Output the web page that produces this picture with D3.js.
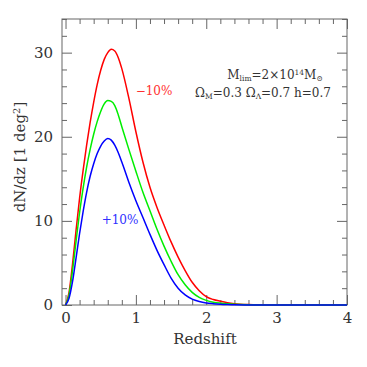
<!DOCTYPE html>
<html>
<head>
<meta charset="utf-8">
<script src="https://cdn.jsdelivr.net/npm/d3@7"></script>
<style>
body { margin: 0; background: #fff; }
svg text { font-family: "DejaVu Serif", "Liberation Serif", serif; fill: #333; }
</style>
</head>
<body>
<svg id="chart"></svg>
<script>
// redshift grid and dN/dz per curve
var zVals = [0, 0.05, 0.1, 0.15, 0.2, 0.25, 0.3, 0.35, 0.4, 0.45, 0.5, 0.55, 0.6, 0.65, 0.7, 0.75, 0.8, 0.9, 1.0, 1.1, 1.2, 1.3, 1.4, 1.5, 1.6, 1.7, 1.8, 1.9, 2.0, 2.1, 2.2, 2.3, 2.4, 2.6, 2.8, 3.0, 3.5, 4.0];
var redVals = [0, 1.5, 4.9, 8.9, 12.7, 16.0, 19.0, 21.7, 24.1, 26.2, 27.9, 29.2, 30.0, 30.4, 30.2, 29.4, 28.1, 24.6, 20.6, 17.0, 14.0, 11.6, 9.5, 7.5, 5.7, 4.1, 2.7, 1.7, 1.0, 0.65, 0.45, 0.28, 0.16, 0.05, 0.015, 0, 0, 0];
var greenVals = [0, 1.2, 4.1, 7.6, 11.0, 13.9, 16.4, 18.5, 20.3, 21.8, 23.0, 23.9, 24.3, 24.2, 23.7, 22.6, 21.2, 18.5, 15.9, 13.4, 11.2, 9.0, 7.0, 5.2, 3.6, 2.4, 1.5, 0.9, 0.55, 0.34, 0.22, 0.14, 0.08, 0.02, 0.005, 0, 0, 0];
var blueVals = [0, 0.8, 2.8, 5.6, 8.5, 11.1, 13.4, 15.3, 16.8, 18.0, 18.9, 19.5, 19.8, 19.6, 19.0, 18.1, 17.0, 14.6, 12.4, 10.4, 8.4, 6.5, 4.8, 3.2, 2.0, 1.2, 0.7, 0.42, 0.25, 0.16, 0.1, 0.06, 0.03, 0.01, 0, 0, 0, 0];
var xTicks = [0, 1, 2, 3, 4];
var yTicks = [0, 10, 20, 30];

var svg = d3.select('#chart')
  .attr('width', 367)
  .attr('height', 367);

// 比例尺
var x = d3.scaleLinear().domain([-0.05, 4]).range([62, 347]);
var y = d3.scaleLinear().domain([0, 34]).range([305, 19]);

var xMinor = d3.range(0, 4.001, 0.2).filter(function(d) { return Math.abs(d - Math.round(d)) > 0.01; });
var yMinor = d3.range(0, 34.001, 2).filter(function(d) { return d % 10 != 0; });

function styleAxis(g) {
  g.select('.domain').remove();
  g.selectAll('line').attr('stroke', '#666').attr('stroke-width', 1);
  g.selectAll('text').style('font-size', '15px').attr('fill', '#333');
}

// bottom
svg.append('g').attr('transform', 'translate(0,305)')
  .call(d3.axisBottom(x).tickValues(xTicks).tickSize(-10).tickPadding(7).tickFormat(d3.format('d')))
  .call(styleAxis);
svg.append('g').attr('transform', 'translate(0,305)')
  .call(d3.axisBottom(x).tickValues(xMinor).tickSize(-5).tickFormat(''))
  .call(styleAxis);
// top
svg.append('g').attr('transform', 'translate(0,19)')
  .call(d3.axisTop(x).tickValues(xTicks).tickSize(-10).tickFormat(''))
  .call(styleAxis);
svg.append('g').attr('transform', 'translate(0,19)')
  .call(d3.axisTop(x).tickValues(xMinor).tickSize(-5).tickFormat(''))
  .call(styleAxis);
// left
svg.append('g').attr('transform', 'translate(62,0)')
  .call(d3.axisLeft(y).tickValues(yTicks).tickSize(-10).tickPadding(9).tickFormat(d3.format('d')))
  .call(styleAxis);
svg.append('g').attr('transform', 'translate(62,0)')
  .call(d3.axisLeft(y).tickValues(yMinor).tickSize(-5).tickFormat(''))
  .call(styleAxis);
// right
svg.append('g').attr('transform', 'translate(347,0)')
  .call(d3.axisRight(y).tickValues(yTicks).tickSize(-10).tickFormat(''))
  .call(styleAxis);
svg.append('g').attr('transform', 'translate(347,0)')
  .call(d3.axisRight(y).tickValues(yMinor).tickSize(-5).tickFormat(''))
  .call(styleAxis);

// frame
svg.append('rect')
  .attr('x', 62).attr('y', 19)
  .attr('width', 285).attr('height', 286)
  .attr('fill', 'none')
  .attr('stroke', '#666')
  .attr('stroke-width', 1);

// curves
var line = d3.line()
  .x(function(d) { return x(d[0]); })
  .y(function(d) { return y(d[1]); })
  .curve(d3.curveMonotoneX);

var series = [
  { vals: redVals, color: '#ff0000' },
  { vals: greenVals, color: '#00ee00' },
  { vals: blueVals, color: '#0000ff' }
];
series.forEach(function(s) {
  svg.append('path')
    .datum(zVals.map(function(z, i) { return [z, s.vals[i]]; }))
    .attr('d', line)
    .attr('fill', 'none')
    .attr('stroke', s.color)
    .attr('stroke-width', 1.5);
});

// labels
svg.append('text')
  .attr('x', 205).attr('y', 344)
  .style('text-anchor', 'middle')
  .style('font-size', '15px')
  .text('Redshift');

var yl = svg.append('text')
  .attr('transform', 'translate(25,157) rotate(-90)')
  .style('text-anchor', 'middle')
  .style('font-size', '15px');
yl.append('tspan').text('dN/dz [1 deg');
yl.append('tspan').attr('dy', -5).style('font-size', '10px').text('2');
yl.append('tspan').attr('dy', 5).text(']');

svg.append('text')
  .attr('x', 154).attr('y', 95)
  .style('text-anchor', 'middle')
  .style('font-size', '12px')
  .style('fill', '#ff3030')
  .text('\u221210%');
svg.append('text')
  .attr('x', 120).attr('y', 224)
  .style('text-anchor', 'middle')
  .style('font-size', '12px')
  .style('fill', '#3030ff')
  .text('+10%');

// annotation
var t1 = svg.append('text')
  .attr('x', 275).attr('y', 79)
  .style('text-anchor', 'middle')
  .style('font-size', '12px');
t1.append('tspan').text('M');
t1.append('tspan').attr('dy', 2).style('font-size', '7.5px').text('lim');
t1.append('tspan').attr('dy', -2).text('=2\u00d710');
t1.append('tspan').attr('dy', -4).style('font-size', '7.5px').text('14');
t1.append('tspan').attr('dy', 4).text('M');
t1.append('tspan').attr('dy', 2).style('font-size', '7.5px').text('\u2299');

var t2 = svg.append('text')
  .attr('x', 263).attr('y', 97)
  .style('text-anchor', 'middle')
  .style('font-size', '12px');
t2.append('tspan').text('\u03a9');
t2.append('tspan').attr('dy', 2).style('font-size', '7.5px').text('M');
t2.append('tspan').attr('dy', -2).text('=0.3  \u03a9');
t2.append('tspan').attr('dy', 2).style('font-size', '7.5px').text('\u039b');
t2.append('tspan').attr('dy', -2).text('=0.7  h=0.7');
</script>
</body>
</html>
